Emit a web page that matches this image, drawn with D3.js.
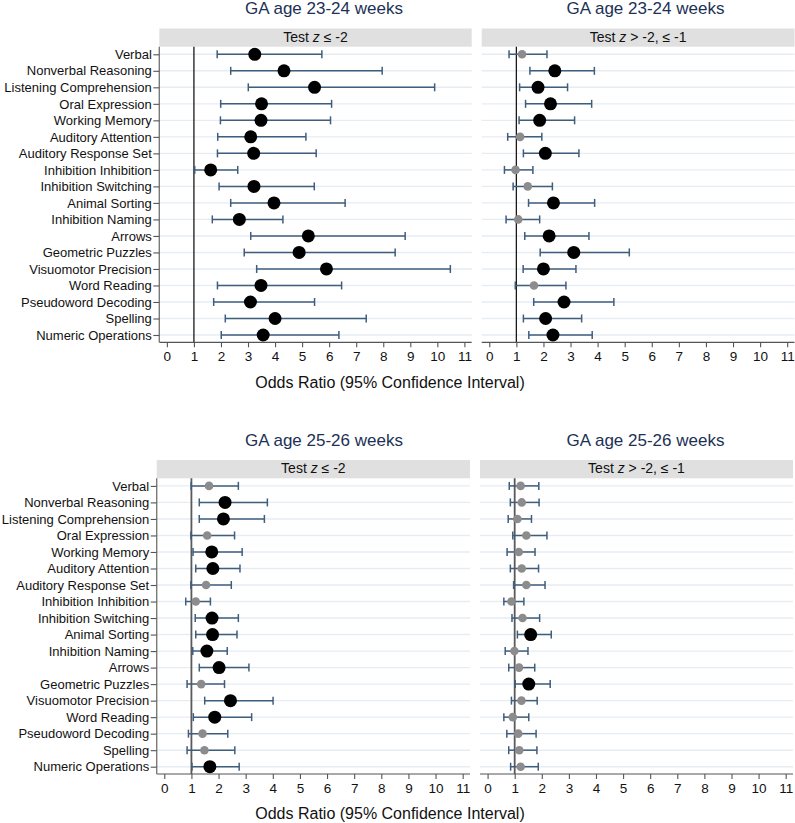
<!DOCTYPE html>
<html><head><meta charset="utf-8">
<script src="https://cdn.jsdelivr.net/npm/d3@7"></script>
<style>
body{margin:0;background:#fff;}
svg{display:block;font-family:"Liberation Sans",Arial,sans-serif;}
</style></head>
<body><svg id="chart" width="795" height="823"></svg>
<script>
const categories = ["Verbal","Nonverbal Reasoning","Listening Comprehension","Oral Expression","Working Memory","Auditory Attention","Auditory Response Set","Inhibition Inhibition","Inhibition Switching","Animal Sorting","Inhibition Naming","Arrows","Geometric Puzzles","Visuomotor Precision","Word Reading","Pseudoword Decoding","Spelling","Numeric Operations"];
const xTicks = [0,1,2,3,4,5,6,7,8,9,10,11];
const panelTitles = ["GA age 23-24 weeks","GA age 25-26 weeks"];
const stripLabels = [["Test ","z"," \u2264 -2"],["Test ","z"," > -2, \u2264 -1"]];

// GA 23-24, z <= -2
const or2324Severe = [3.25,4.33,5.46,3.50,3.48,3.10,3.21,1.62,3.22,3.96,2.68,5.23,4.89,5.90,3.48,3.09,4.00,3.56];
const lo2324Severe = [1.86,2.36,3.01,1.99,1.98,1.88,1.87,1.03,1.93,2.36,1.68,3.10,2.86,3.32,1.87,1.73,2.16,2.01];
const hi2324Severe = [5.73,7.96,9.90,6.09,6.05,5.14,5.52,2.62,5.45,6.59,4.29,8.81,8.44,10.48,6.46,5.46,7.37,6.36];
// GA 23-24, -2 < z <= -1
const or2324Mild = [1.21,2.42,1.80,2.26,1.86,1.14,2.07,0.97,1.42,2.37,1.07,2.21,3.12,2.00,1.65,2.76,2.08,2.35];
const lo2324Mild = [0.73,1.50,1.12,1.34,1.10,0.68,1.26,0.56,0.88,1.45,0.62,1.31,1.88,1.25,0.96,1.64,1.26,1.46];
const hi2324Mild = [2.13,3.88,2.89,3.78,3.15,1.94,3.31,1.61,2.33,3.89,1.86,3.68,5.17,3.20,2.83,4.60,3.41,3.80];
// GA 25-26, z <= -2
const or2526Severe = [1.65,2.24,2.18,1.58,1.75,1.79,1.54,1.16,1.76,1.78,1.57,2.02,1.36,2.44,1.86,1.41,1.48,1.68];
const lo2526Severe = [0.99,1.29,1.29,0.98,1.06,1.16,0.98,0.79,1.14,1.16,1.05,1.29,0.84,1.49,1.07,0.89,0.84,1.02];
const hi2526Severe = [2.73,3.80,3.69,2.59,2.87,2.79,2.47,1.70,2.73,2.68,2.32,3.12,2.22,4.01,3.22,2.34,2.60,2.76];
// GA 25-26, -2 < z <= -1
const or2526Mild = [1.22,1.26,1.10,1.43,1.15,1.26,1.43,0.88,1.29,1.59,0.99,1.16,1.52,1.25,0.93,1.13,1.17,1.22];
const lo2526Mild = [0.80,0.84,0.76,0.93,0.72,0.84,0.96,0.60,0.90,1.10,0.65,0.78,1.02,0.88,0.60,0.71,0.78,0.85];
const hi2526Mild = [1.89,1.90,1.62,2.19,1.75,1.88,2.12,1.34,1.92,2.35,1.49,1.74,2.31,1.83,1.52,1.79,1.82,1.87];

const panels = [
  {title:panelTitles[0], strip:stripLabels[0], or:or2324Severe, lo:lo2324Severe, hi:hi2324Severe,
   x0:159.3, x1:471.7, top:46.7, bottom:342.3, stripTop:28.5, yAxis:true, titleX:324, titleY:14, refColor:"#1a1a1a", refW:1.3},
  {title:panelTitles[0], strip:stripLabels[1], or:or2324Mild, lo:lo2324Mild, hi:hi2324Mild,
   x0:481.7, x1:794.5, top:46.7, bottom:342.3, stripTop:28.5, yAxis:false, titleX:645.5, titleY:14, refColor:"#1a1a1a", refW:1.3},
  {title:panelTitles[1], strip:stripLabels[0], or:or2526Severe, lo:lo2526Severe, hi:hi2526Severe,
   x0:156.7, x1:470, top:478.3, bottom:774, stripTop:460, yAxis:true, titleX:324, titleY:445.5, refColor:"#5a5a5a", refW:1.8},
  {title:panelTitles[1], strip:stripLabels[1], or:or2526Mild, lo:lo2526Mild, hi:hi2526Mild,
   x0:480, x1:793, top:478.3, bottom:774, stripTop:460, yAxis:false, titleX:645.5, titleY:445.5, refColor:"#5a5a5a", refW:1.8}
];

const svg = d3.select("#chart");
const barColor = "#3f5d7d";
const gridColor = "#e5edf3";

panels.forEach(p => {
  const g = svg.append("g");
  const x = d3.scaleLinear().domain([-0.28, 11.27]).range([p.x0, p.x1]);
  const y = d3.scalePoint().domain(categories).range([p.top + 7.6, p.bottom - 7.3]);

  // title
  g.append("text").attr("x", p.titleX).attr("y", p.titleY).attr("text-anchor","middle")
    .attr("font-size", 17).attr("fill", "#1c3156").text(p.title);

  // strip
  g.append("rect").attr("x", p.x0).attr("y", p.stripTop).attr("width", p.x1 - p.x0)
    .attr("height", p.top - p.stripTop).attr("fill", "#e0e0e0");
  const st = g.append("text").attr("x", (p.x0 + p.x1)/2).attr("y", p.stripTop + 13.4)
    .attr("text-anchor","middle").attr("font-size", 14).attr("fill","#111");
  st.append("tspan").text(p.strip[0]);
  st.append("tspan").attr("font-style","italic").text(p.strip[1]);
  st.append("tspan").text(p.strip[2]);

  // gridlines
  g.selectAll("line.grid").data(categories).join("line").attr("class","grid")
    .attr("x1", p.x0).attr("x2", p.x1).attr("y1", d => y(d)).attr("y2", d => y(d))
    .attr("stroke", gridColor).attr("stroke-width", 1.4);

  // reference line at 1
  g.append("line").attr("x1", x(1)).attr("x2", x(1)).attr("y1", p.top).attr("y2", p.bottom)
    .attr("stroke", p.refColor).attr("stroke-width", p.refW);

  // x axis
  const xa = g.append("g").attr("transform", `translate(0,${p.bottom})`)
    .call(d3.axisBottom(x).tickValues(xTicks).tickSize(5).tickPadding(4).tickFormat(d3.format("d")));
  xa.select(".domain").attr("d", `M${p.x0},0H${p.x1}`).attr("stroke","#555").attr("stroke-width",1.2);
  xa.selectAll(".tick line").attr("stroke","#555").attr("stroke-width",1.1);
  xa.selectAll(".tick text").attr("font-size", 13.5).attr("fill","#111")
    .attr("font-family","Liberation Sans, Arial, sans-serif");

  // y axis
  if (p.yAxis) {
    const ya = g.append("g").attr("transform", `translate(${p.x0},0)`)
      .call(d3.axisLeft(y).tickSize(6).tickPadding(1.5));
    ya.select(".domain").attr("d", `M0,${p.top}V${p.bottom}`).attr("stroke","#7a7a7a").attr("stroke-width",1.4);
    ya.selectAll(".tick line").attr("stroke","#555").attr("stroke-width",1.1);
    ya.selectAll(".tick text").attr("font-size", 13).attr("fill","#111")
      .attr("font-family","Liberation Sans, Arial, sans-serif");
  }

  const rows = categories.map((c, i) => ({c, or:p.or[i], lo:p.lo[i], hi:p.hi[i], sig:p.lo[i] > 1}));

  // CI bars
  g.selectAll("line.ci").data(rows).join("line").attr("class","ci")
    .attr("x1", d => x(d.lo)).attr("x2", d => x(d.hi)).attr("y1", d => y(d.c)).attr("y2", d => y(d.c))
    .attr("stroke", barColor).attr("stroke-width", 1.5);
  g.selectAll("line.capl").data(rows).join("line").attr("class","capl")
    .attr("x1", d => x(d.lo)).attr("x2", d => x(d.lo)).attr("y1", d => y(d.c) - 4).attr("y2", d => y(d.c) + 4)
    .attr("stroke", barColor).attr("stroke-width", 1.5);
  g.selectAll("line.caph").data(rows).join("line").attr("class","caph")
    .attr("x1", d => x(d.hi)).attr("x2", d => x(d.hi)).attr("y1", d => y(d.c) - 4).attr("y2", d => y(d.c) + 4)
    .attr("stroke", barColor).attr("stroke-width", 1.5);

  // points
  g.selectAll("circle.pt").data(rows).join("circle").attr("class","pt")
    .attr("cx", d => x(d.or)).attr("cy", d => y(d.c))
    .attr("r", d => d.sig ? 6.5 : 4.3)
    .attr("fill", d => d.sig ? "#000" : "#8c8c8c");
});

// axis titles
[387.5, 819].forEach(yy => {
  svg.append("text").attr("x", 390).attr("y", yy).attr("text-anchor","middle")
    .attr("font-size", 16).attr("fill","#111").text("Odds Ratio (95% Confidence Interval)");
});
</script>
</body></html>
